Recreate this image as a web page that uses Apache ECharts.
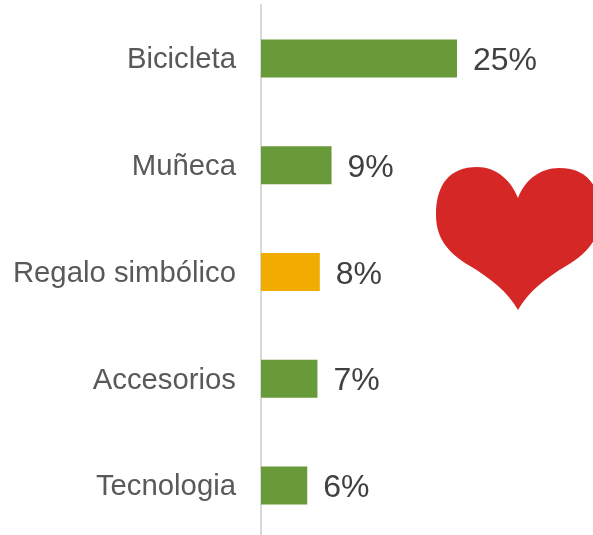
<!DOCTYPE html>
<html>
<head>
<meta charset="utf-8">
<style>html,body{margin:0;padding:0;background:#fff;overflow:hidden}#chart{width:593px;height:540px}</style>
<script src="https://cdn.jsdelivr.net/npm/echarts@6/dist/echarts.min.js"></script>
</head>
<body>
<div id="chart"></div>
<script>
const categories = ['Bicicleta', 'Muñeca', 'Regalo simbólico', 'Accesorios', 'Tecnologia'];
// bar lengths, the labels show them rounded
const values = [25, 9, 7.5, 7.2, 5.9];
const barColors = ['#699A39', '#699A39', '#F2AB00', '#699A39', '#699A39'];
const heartPath = 'M518,310 C508,292 490,278 470,266 C450,254 436,240 436,215 C436,184 450,167 477,167 C496,167 511,180 518,198 C525,180 540,168 559,168 C586,168 600,184 600,215 C600,240 586,254 566,266 C546,278 528,292 518,310 Z';

const chart = echarts.init(document.getElementById('chart'));
chart.setOption({
  animation: false,
  grid: { left: 261, top: 5, width: 332, height: 533.75 },
  xAxis: { type: 'value', min: 0, max: 42.35, show: false },
  yAxis: {
    type: 'category',
    inverse: true,
    data: categories,
    axisTick: { show: false },
    axisLine: { lineStyle: { color: '#D9D9D9', width: 2 } },
    axisLabel: {
      margin: 25,
      formatter: '{a|{value}}',
      rich: {
        a: { color: '#595959', fontSize: 29.3, fontFamily: 'Liberation Sans', padding: [4, 0, 0, 0] }
      }
    }
  },
  series: [
    {
      type: 'bar',
      data: values.map((v, i) => ({ value: v, itemStyle: { color: barColors[i] } })),
      barWidth: 38,
      label: {
        show: true,
        position: 'right',
        distance: 16,
        offset: [0, 3],
        formatter: p => Math.round(p.value) + '%',
        color: '#404040',
        fontSize: 32,
        fontFamily: 'Liberation Sans'
      }
    },
    {
      // the heart, graphic has no path element so it goes through a custom series
      type: 'custom',
      coordinateSystem: 'none',
      silent: true,
      data: [0],
      renderItem: () => ({
        type: 'path',
        shape: { pathData: heartPath, layout: 'cover', x: 436, y: 167, width: 164, height: 143 },
        style: { fill: '#D62727' }
      })
    }
  ]
});
</script>
</body>
</html>
